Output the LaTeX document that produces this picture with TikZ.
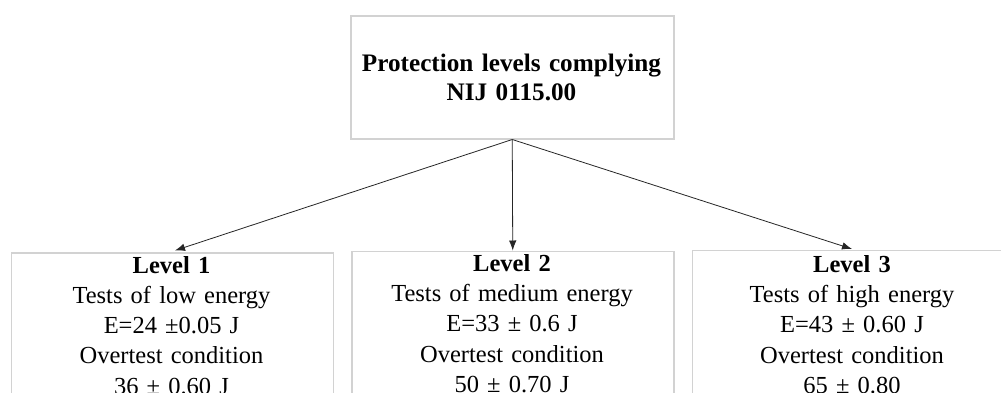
\documentclass[tikz,border=0pt]{standalone}
\usepackage{fontspec}
\setmainfont{Liberation Serif}
\usetikzlibrary{arrows.meta}
\tikzset{
  box/.style={draw=gray!35, line width=1.5pt, rectangle, inner sep=0pt, anchor=north west},
  lbl/.style={inner sep=0pt, text width=320pt, align=center, anchor=base,
    font=\fontsize{24.5}{30.2}\selectfont},
  ttl/.style={inner sep=0pt, text width=320pt, align=center, anchor=base,
    font=\fontsize{25.2}{29}\selectfont\bfseries},
  conn/.style={draw=black!85, line width=0.8pt, -{Latex[length=10pt,width=7.5pt]}}
}
\begin{document}
\begin{tikzpicture}[x=1pt,y=-1pt]
\useasboundingbox (0,0) rectangle (1001,392);
\clip (0,0) rectangle (1001,392);
\fill[white] (0,0) rectangle (1001,392);
% top box
\node[box, minimum width=323pt, minimum height=123pt] (top) at (350,15) {};
\node[ttl] (toptext) at (511.5,71) {Protection levels complying\\NIJ 0115.00};
% bottom boxes
\node[box, minimum width=322pt, minimum height=200pt] (b1) at (10.5,252) {};
\node[box, minimum width=322pt, minimum height=200pt] (b2) at (351,250.5) {};
\node[box, minimum width=322pt, minimum height=200pt] (b3) at (691.5,249.5) {};
\node[lbl] (t1) at (171.5,273.3) {\textbf{Level 1}\\Tests of low energy\\E=24 ±0.05 J\\Overtest condition\\36 ± 0.60 J};
\node[lbl] (t2) at (512,271.5) {\textbf{Level 2}\\Tests of medium energy\\E=33 ± 0.6 J\\Overtest condition\\50 ± 0.70 J};
\node[lbl] (t3) at (852,272.5) {\textbf{Level 3}\\Tests of high energy\\E=43 ± 0.60 J\\Overtest condition\\65 ± 0.80};
% connectors
\coordinate (o) at (top.south);
\coordinate (e1) at (175,250.5);
\coordinate (e3) at (852,249);
\draw[conn] (o) -- (e1);
\draw[conn] (o) -- (b2.north);
\draw[conn] (o) -- (e3);
\end{tikzpicture}
\end{document}
